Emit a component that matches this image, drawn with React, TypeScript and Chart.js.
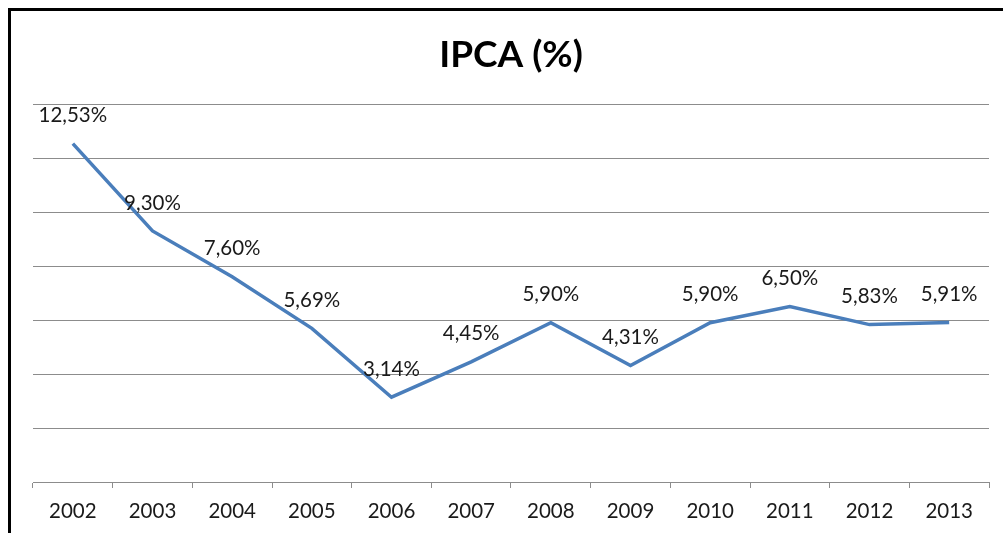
import React, { useEffect, useRef } from "react";
import { Chart, registerables } from "chart.js";

Chart.register(...registerables);

const categories = ["2002", "2003", "2004", "2005", "2006", "2007", "2008", "2009", "2010", "2011", "2012", "2013"];
const ipcaValues = [12.53, 9.3, 7.6, 5.69, 3.14, 4.45, 5.9, 4.31, 5.9, 6.5, 5.83, 5.91];
const chartTitle = "IPCA (%)";

const FONT = "Lato, 'Open Sans', 'DejaVu Sans', sans-serif";

const fmt = (v: number) => v.toFixed(2).replace(".", ",") + "%";

const labelsPlugin = {
  id: "ipcaLabels",
  afterDatasetsDraw(chart: any) {
    const ctx = chart.ctx;
    const meta = chart.getDatasetMeta(0);
    ctx.save();
    ctx.font = `20.5px ${FONT}`;
    ctx.fillStyle = "#1a1a1a";
    ctx.textAlign = "center";
    ctx.textBaseline = "middle";
    meta.data.forEach((pt: any, i: number) => {
      ctx.fillText(fmt(ipcaValues[i]), pt.x, pt.y - 28);
    });
    ctx.restore();
  },
};

const titlePlugin = {
  id: "ipcaTitle",
  afterDraw(chart: any) {
    const ctx = chart.ctx;
    const area = chart.chartArea;
    ctx.save();
    ctx.font = `bold 37px ${FONT}`;
    ctx.fillStyle = "#000";
    ctx.textAlign = "center";
    ctx.textBaseline = "middle";
    ctx.fillText(chartTitle, (area.left + area.right) / 2, 44);
    ctx.restore();
  },
};

export default function App() {
  const ref = useRef<HTMLCanvasElement | null>(null);
  useEffect(() => {
    if (!ref.current) return;
    const chart = new Chart(ref.current, {
      type: "line",
      data: {
        labels: categories,
        datasets: [
          {
            data: ipcaValues,
            borderColor: "#4A7EBB",
            borderWidth: 3.5,
            pointRadius: 0,
            tension: 0,
            fill: false,
          },
        ],
      },
      options: {
        animation: false,
        responsive: true,
        maintainAspectRatio: false,
        layout: { padding: { left: 22, right: 14, top: 93, bottom: 0 } },
        plugins: {
          legend: { display: false },
          title: { display: false },
          tooltip: { enabled: false },
        },
        scales: {
          x: {
            type: "category",
            offset: true,
            grid: {
              offset: true,
              drawOnChartArea: false,
              drawTicks: true,
              tickLength: 6,
              color: "#8c8c8c",
            },
            border: { display: true, color: "#8c8c8c", width: 1 },
            ticks: {
              padding: 11,
              color: "#1a1a1a",
              font: { family: FONT, size: 20.5 },
              maxRotation: 0,
            },
            afterFit(scale: any) {
              scale.height = 51;
            },
          },
          y: {
            min: 0,
            max: 14,
            ticks: { display: false, stepSize: 2 },
            grid: { color: "#8c8c8c", drawTicks: false },
            border: { display: false },
            afterFit(scale: any) {
              scale.width = 0;
            },
          },
        },
      },
      plugins: [labelsPlugin, titlePlugin],
    });
    return () => chart.destroy();
  }, []);

  return (
    <div
      style={{
        position: "fixed",
        left: 8,
        top: 8,
        width: 995,
        height: 525,
        borderTop: "3px solid #000",
        borderLeft: "3px solid #000",
        boxSizing: "border-box",
        background: "#fff",
      }}
    >
      <div style={{ position: "relative", width: 992, height: 522 }}>
        <canvas ref={ref} />
      </div>
    </div>
  );
}
